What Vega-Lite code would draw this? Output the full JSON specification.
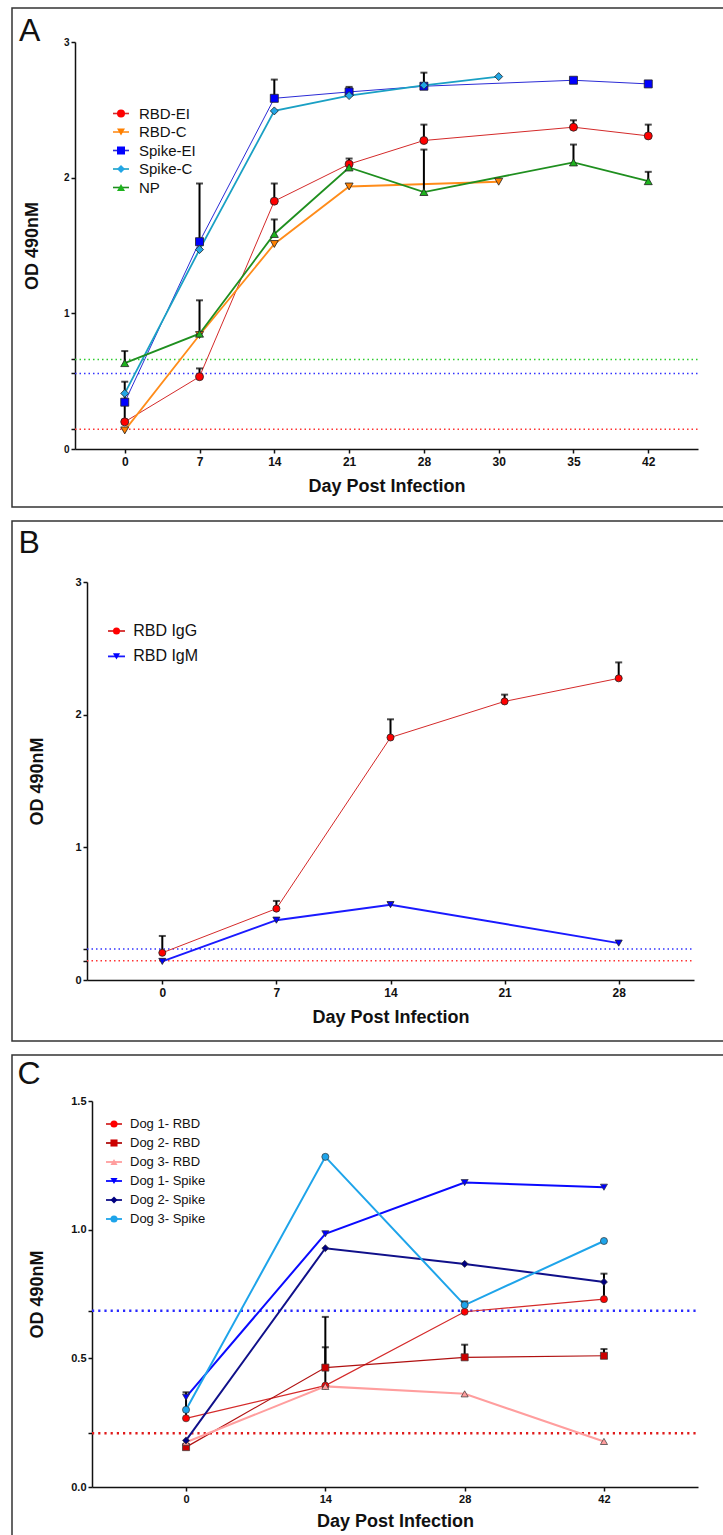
{
  "$schema": "https://vega.github.io/schema/vega-lite/v6.json",
  "background": "white",
  "padding": {"left": 11, "top": 7, "right": 0, "bottom": 0},
  "spacing": 12,
  "config": {
    "view": {"stroke": "#333", "strokeWidth": 1.5},
    "font": "Liberation Sans",
    "axis": {"grid": false, "domainColor": "#111", "tickColor": "#111", "labelColor": "#111", "titleColor": "#111", "labelFont": "Liberation Sans", "titleFont": "Liberation Sans", "labelFontWeight": "bold", "titleFontWeight": "bold", "tickWidth": 1.5, "domainWidth": 1.5, "tickSize": 4},
    "legend": {"padding": 0, "labelColor": "#111", "labelFont": "Liberation Sans"},
    "title": {"fontWeight": "normal", "color": "#111", "anchor": "start", "frame": "group", "font": "Liberation Sans"}
  },
  "datasets": {
    "a": [
      {"series": "RBD-EI", "day": 0, "od": 0.2, "hi": 0.33},
      {"series": "RBD-EI", "day": 7, "od": 0.533, "hi": 0.594},
      {"series": "RBD-EI", "day": 14, "od": 1.827, "hi": 1.957},
      {"series": "RBD-EI", "day": 21, "od": 2.1, "hi": 2.141},
      {"series": "RBD-EI", "day": 28, "od": 2.274, "hi": 2.391},
      {"series": "RBD-EI", "day": 35, "od": 2.372, "hi": 2.423},
      {"series": "RBD-EI", "day": 42, "od": 2.308, "hi": 2.391},
      {"series": "RBD-C", "day": 0, "od": 0.137},
      {"series": "RBD-C", "day": 7, "od": 0.84},
      {"series": "RBD-C", "day": 14, "od": 1.511},
      {"series": "RBD-C", "day": 21, "od": 1.935},
      {"series": "RBD-C", "day": 30, "od": 1.97},
      {"series": "Spike-EI", "day": 0, "od": 0.345, "hi": 0.496},
      {"series": "Spike-EI", "day": 7, "od": 1.528, "hi": 1.957},
      {"series": "Spike-EI", "day": 14, "od": 2.585, "hi": 2.723},
      {"series": "Spike-EI", "day": 21, "od": 2.632, "hi": 2.669},
      {"series": "Spike-EI", "day": 28, "od": 2.674, "hi": 2.774},
      {"series": "Spike-EI", "day": 35, "od": 2.718},
      {"series": "Spike-EI", "day": 42, "od": 2.691},
      {"series": "Spike-C", "day": 0, "od": 0.41},
      {"series": "Spike-C", "day": 7, "od": 1.47},
      {"series": "Spike-C", "day": 14, "od": 2.492},
      {"series": "Spike-C", "day": 21, "od": 2.605},
      {"series": "Spike-C", "day": 28, "od": 2.681},
      {"series": "Spike-C", "day": 30, "od": 2.745},
      {"series": "NP", "day": 0, "od": 0.633, "hi": 0.722},
      {"series": "NP", "day": 7, "od": 0.85, "hi": 1.096},
      {"series": "NP", "day": 14, "od": 1.585, "hi": 1.692},
      {"series": "NP", "day": 21, "od": 2.075},
      {"series": "NP", "day": 28, "od": 1.894, "hi": 2.207},
      {"series": "NP", "day": 35, "od": 2.112, "hi": 2.244},
      {"series": "NP", "day": 42, "od": 1.974, "hi": 2.043}
    ],
    "aCut": [
      {"antigen": "NP", "cutoff": 0.66},
      {"antigen": "Spike", "cutoff": 0.557},
      {"antigen": "RBD", "cutoff": 0.145}
    ],
    "b": [
      {"series": "RBD IgG", "day": 0, "od": 0.205, "hi": 0.332},
      {"series": "RBD IgG", "day": 7, "od": 0.538, "hi": 0.596},
      {"series": "RBD IgG", "day": 14, "od": 1.828, "hi": 1.965},
      {"series": "RBD IgG", "day": 21, "od": 2.1, "hi": 2.151},
      {"series": "RBD IgG", "day": 28, "od": 2.274, "hi": 2.394},
      {"series": "RBD IgM", "day": 0, "od": 0.14},
      {"series": "RBD IgM", "day": 7, "od": 0.451},
      {"series": "RBD IgM", "day": 14, "od": 0.568},
      {"series": "RBD IgM", "day": 28, "od": 0.278}
    ],
    "bCut": [
      {"antigen": "IgM", "cutoff": 0.234},
      {"antigen": "IgG", "cutoff": 0.145}
    ],
    "c": [
      {"series": "Dog 1- RBD", "day": 0, "od": 0.267, "hi": 0.368},
      {"series": "Dog 1- RBD", "day": 14, "od": 0.394, "hi": 0.543},
      {"series": "Dog 1- RBD", "day": 28, "od": 0.681, "hi": 0.721},
      {"series": "Dog 1- RBD", "day": 42, "od": 0.73, "hi": 0.829},
      {"series": "Dog 2- RBD", "day": 0, "od": 0.155},
      {"series": "Dog 2- RBD", "day": 14, "od": 0.464, "hi": 0.661},
      {"series": "Dog 2- RBD", "day": 28, "od": 0.504, "hi": 0.553},
      {"series": "Dog 2- RBD", "day": 42, "od": 0.51, "hi": 0.536},
      {"series": "Dog 3- RBD", "day": 0, "od": 0.174},
      {"series": "Dog 3- RBD", "day": 14, "od": 0.391},
      {"series": "Dog 3- RBD", "day": 28, "od": 0.362},
      {"series": "Dog 3- RBD", "day": 42, "od": 0.177},
      {"series": "Dog 1- Spike", "day": 0, "od": 0.349},
      {"series": "Dog 1- Spike", "day": 14, "od": 0.984},
      {"series": "Dog 1- Spike", "day": 28, "od": 1.183},
      {"series": "Dog 1- Spike", "day": 42, "od": 1.165},
      {"series": "Dog 2- Spike", "day": 0, "od": 0.181},
      {"series": "Dog 2- Spike", "day": 14, "od": 0.928},
      {"series": "Dog 2- Spike", "day": 28, "od": 0.867},
      {"series": "Dog 2- Spike", "day": 42, "od": 0.797},
      {"series": "Dog 3- Spike", "day": 0, "od": 0.3},
      {"series": "Dog 3- Spike", "day": 14, "od": 1.283},
      {"series": "Dog 3- Spike", "day": 28, "od": 0.707},
      {"series": "Dog 3- Spike", "day": 42, "od": 0.956}
    ],
    "cCut": [
      {"antigen": "Spike", "cutoff": 0.685},
      {"antigen": "RBD", "cutoff": 0.209}
    ]
  },
  "resolve": {
    "scale": {"x": "independent", "y": "independent", "color": "independent", "stroke": "independent", "fill": "independent", "shape": "independent"},
    "axis": {"x": "independent", "y": "independent"},
    "legend": {"color": "independent", "stroke": "independent", "fill": "independent", "shape": "independent"}
  },
  "vconcat": [
    {
      "width": 713,
      "height": 499,
      "title": {"text": "A", "fontSize": 32, "offset": -65, "dx": 7, "baseline": "alphabetic"},
      "resolve": {"scale": {"x": "independent"}, "axis": {"y": "independent"}},
      "layer": [
        {
          "data": {"name": "aCut"},
          "mark": {"type": "rule", "strokeDash": [1.5, 3], "strokeWidth": 1.5},
          "encoding": {
            "x": {"datum": 0, "type": "quantitative", "scale": {"domain": [0, 1], "range": [63, 686], "nice": false, "zero": false}, "axis": null},
            "x2": {"datum": 1},
            "y": {"field": "cutoff", "type": "quantitative", "scale": {"domain": [0, 3], "range": [441, 34], "nice": false},
              "axis": {"orient": "left", "offset": -63, "values": [0.145, 0.557, 0.66], "labels": false, "domain": false, "title": null}},
            "color": {"field": "antigen", "type": "nominal", "scale": {"domain": ["NP", "Spike", "RBD"], "range": ["#2fcc2f", "#3333ff", "#ff3333"]}, "legend": null}
          }
        },
        {
          "data": {"name": "a"},
          "encoding": {
            "x": {"field": "day", "type": "ordinal", "scale": {"type": "point", "range": [63, 686], "padding": 0.665},
              "axis": {"title": "Day Post Infection", "offset": -58, "labelAngle": 0, "labelFontSize": 12, "labelPadding": 3, "titleFontSize": 18, "titlePadding": 10}},
            "y": {"field": "od", "type": "quantitative", "scale": {"domain": [0, 3], "range": [441, 34], "nice": false},
              "axis": {"orient": "left", "title": "OD 490nM", "offset": -63, "values": [0, 1, 2, 3], "format": "d", "labelFontSize": 10, "labelPadding": 2, "titleFontSize": 18, "titlePadding": 22}}
          },
          "layer": [
            {
              "transform": [{"filter": {"field": "series", "oneOf": ["RBD-EI", "Spike-EI"]}}],
              "mark": {"type": "line", "strokeWidth": 1},
              "encoding": {
                "stroke": {"field": "series", "type": "nominal",
                  "scale": {"domain": ["RBD-EI", "RBD-C", "Spike-EI", "Spike-C", "NP", "~"], "range": ["#d42a2a", "#ff8c1a", "#2b2bd6", "#1aa0c4", "#1f8f1f", "#ffffff"]},
                  "legend": {"values": ["RBD-EI", "RBD-C", "Spike-EI", "Spike-C", "NP"], "orient": "none", "legendX": 101.5, "legendY": 98, "title": null, "symbolType": "M-2,0H2", "symbolSize": 64, "symbolStrokeWidth": 1.6, "labelFontSize": 15, "labelOffset": 10.5, "rowPadding": 2.5}}
              }
            },
            {
              "transform": [{"filter": {"field": "series", "oneOf": ["RBD-C", "Spike-C", "NP"]}}],
              "mark": {"type": "line", "strokeWidth": 1.8},
              "encoding": {
                "stroke": {"field": "series", "type": "nominal",
                  "scale": {"domain": ["RBD-EI", "RBD-C", "Spike-EI", "Spike-C", "NP", "~"], "range": ["#d42a2a", "#ff8c1a", "#2b2bd6", "#1aa0c4", "#1f8f1f", "#ffffff"]},
                  "legend": {"values": ["RBD-EI", "RBD-C", "Spike-EI", "Spike-C", "NP"], "orient": "none", "legendX": 101.5, "legendY": 98, "title": null, "symbolType": "M-2,0H2", "symbolSize": 64, "symbolStrokeWidth": 1.6, "labelFontSize": 15, "labelOffset": 10.5, "rowPadding": 2.5}}
              }
            },
            {
              "transform": [{"filter": "isValid(datum.hi)"}],
              "mark": {"type": "rule", "color": "#000", "strokeWidth": 2},
              "encoding": {"y2": {"field": "hi"}}
            },
            {
              "transform": [{"filter": "isValid(datum.hi)"}],
              "mark": {"type": "tick", "orient": "horizontal", "color": "#000", "size": 7, "thickness": 2},
              "encoding": {"y": {"field": "hi", "type": "quantitative"}}
            },
            {
              "mark": {"type": "point", "filled": true, "size": 64, "stroke": "#222", "strokeWidth": 0.8, "opacity": 1},
              "encoding": {
                "fill": {"field": "series", "type": "nominal",
                  "scale": {"domain": ["RBD-EI", "RBD-C", "Spike-EI", "Spike-C", "NP"], "range": ["#ff0000", "#ff8000", "#0000ff", "#22a6e6", "#1db31d"]},
                  "legend": {"orient": "none", "legendX": 101.5, "legendY": 98, "title": null, "symbolSize": 64, "symbolStrokeColor": "#222", "symbolStrokeWidth": 0.8, "labelFontSize": 15, "labelOffset": 10.5, "labelOpacity": 0, "rowPadding": 2.5, "zindex": 1}},
                "shape": {"field": "series", "type": "nominal",
                  "scale": {"domain": ["RBD-EI", "RBD-C", "Spike-EI", "Spike-C", "NP"], "range": ["circle", "triangle-down", "square", "diamond", "triangle-up"]},
                  "legend": {"orient": "none", "legendX": 101.5, "legendY": 98, "title": null, "symbolSize": 64, "symbolStrokeColor": "#222", "symbolStrokeWidth": 0.8, "labelFontSize": 15, "labelOffset": 10.5, "labelOpacity": 0, "rowPadding": 2.5, "zindex": 1}}
              }
            }
          ]
        }
      ]
    },
    {
      "width": 712,
      "height": 520,
      "title": {"text": "B", "fontSize": 32, "offset": -64, "dx": 6.5, "baseline": "alphabetic"},
      "resolve": {"scale": {"x": "independent"}, "axis": {"y": "independent"}},
      "layer": [
        {
          "data": {"name": "bCut"},
          "mark": {"type": "rule", "strokeDash": [1.5, 3], "strokeWidth": 1.5},
          "encoding": {
            "x": {"datum": 0, "type": "quantitative", "scale": {"domain": [0, 1], "range": [75, 682], "nice": false, "zero": false}, "axis": null},
            "x2": {"datum": 1},
            "y": {"field": "cutoff", "type": "quantitative", "scale": {"domain": [0, 3], "range": [459, 61], "nice": false},
              "axis": {"orient": "left", "offset": -75, "values": [0.145, 0.234], "labels": false, "domain": false, "title": null}},
            "color": {"field": "antigen", "type": "nominal", "scale": {"domain": ["IgM", "IgG"], "range": ["#3333ff", "#ff3333"]}, "legend": null}
          }
        },
        {
          "data": {"name": "b"},
          "encoding": {
            "x": {"field": "day", "type": "ordinal", "scale": {"type": "point", "range": [75, 682], "padding": 0.66},
              "axis": {"title": "Day Post Infection", "offset": -61, "labelAngle": 0, "labelFontSize": 12, "labelPadding": 3, "titleFontSize": 18, "titlePadding": 10}},
            "y": {"field": "od", "type": "quantitative", "scale": {"domain": [0, 3], "range": [459, 61], "nice": false},
              "axis": {"orient": "left", "title": "OD 490nM", "offset": -75, "values": [0, 1, 2, 3], "format": "d", "labelFontSize": 11, "labelPadding": 2, "titleFontSize": 18, "titlePadding": 28}}
          },
          "layer": [
            {
              "transform": [{"filter": {"field": "series", "oneOf": ["RBD IgG"]}}],
              "mark": {"type": "line", "strokeWidth": 1},
              "encoding": {
                "stroke": {"field": "series", "type": "nominal",
                  "scale": {"domain": ["RBD IgG", "RBD IgM", "~"], "range": ["#d42a2a", "#1a1aff", "#ffffff"]},
                  "legend": {"values": ["RBD IgG", "RBD IgM"], "orient": "none", "legendX": 96.5, "legendY": 102, "title": null, "symbolType": "M-2.4,0H2.4", "symbolSize": 50, "symbolStrokeWidth": 1.8, "labelFontSize": 16, "labelOffset": 8.7, "rowPadding": 9.4}}
              }
            },
            {
              "transform": [{"filter": {"field": "series", "oneOf": ["RBD IgM"]}}],
              "mark": {"type": "line", "strokeWidth": 2},
              "encoding": {
                "stroke": {"field": "series", "type": "nominal",
                  "scale": {"domain": ["RBD IgG", "RBD IgM", "~"], "range": ["#d42a2a", "#1a1aff", "#ffffff"]},
                  "legend": {"values": ["RBD IgG", "RBD IgM"], "orient": "none", "legendX": 96.5, "legendY": 102, "title": null, "symbolType": "M-2.4,0H2.4", "symbolSize": 50, "symbolStrokeWidth": 1.8, "labelFontSize": 16, "labelOffset": 8.7, "rowPadding": 9.4}}
              }
            },
            {
              "transform": [{"filter": "isValid(datum.hi)"}],
              "mark": {"type": "rule", "color": "#000", "strokeWidth": 2},
              "encoding": {"y2": {"field": "hi"}}
            },
            {
              "transform": [{"filter": "isValid(datum.hi)"}],
              "mark": {"type": "tick", "orient": "horizontal", "color": "#000", "size": 7, "thickness": 2},
              "encoding": {"y": {"field": "hi", "type": "quantitative"}}
            },
            {
              "mark": {"type": "point", "filled": true, "size": 50, "stroke": "#222", "strokeWidth": 0.8, "opacity": 1},
              "encoding": {
                "fill": {"field": "series", "type": "nominal",
                  "scale": {"domain": ["RBD IgG", "RBD IgM"], "range": ["#ff0000", "#0000ff"]},
                  "legend": {"orient": "none", "legendX": 96.5, "legendY": 102, "title": null, "symbolSize": 50, "symbolStrokeColor": "#222", "symbolStrokeWidth": 0.8, "labelFontSize": 16, "labelOffset": 8.7, "labelOpacity": 0, "rowPadding": 9.4, "zindex": 1}},
                "shape": {"field": "series", "type": "nominal",
                  "scale": {"domain": ["RBD IgG", "RBD IgM"], "range": ["circle", "triangle-down"]},
                  "legend": {"orient": "none", "legendX": 96.5, "legendY": 102, "title": null, "symbolSize": 50, "symbolStrokeColor": "#222", "symbolStrokeWidth": 0.8, "labelFontSize": 16, "labelOffset": 8.7, "labelOpacity": 0, "rowPadding": 9.4, "zindex": 1}}
              }
            }
          ]
        }
      ]
    },
    {
      "width": 712,
      "height": 494,
      "title": {"text": "C", "fontSize": 32, "offset": -61, "dx": 5.5, "baseline": "alphabetic"},
      "resolve": {"scale": {"x": "independent"}, "axis": {"y": "independent"}},
      "layer": [
        {
          "data": {"name": "cCut"},
          "mark": {"type": "rule", "strokeDash": [2.2, 4], "strokeWidth": 2.4},
          "encoding": {
            "x": {"datum": 0, "type": "quantitative", "scale": {"domain": [0, 1], "range": [80, 686], "nice": false, "zero": false}, "axis": null},
            "x2": {"datum": 1},
            "y": {"field": "cutoff", "type": "quantitative", "scale": {"domain": [0, 1.5], "range": [432, 46], "nice": false},
              "axis": {"orient": "left", "offset": -80, "values": [0.209, 0.685], "labels": false, "domain": false, "title": null}},
            "color": {"field": "antigen", "type": "nominal", "scale": {"domain": ["Spike", "RBD"], "range": ["#2a2aff", "#e01a1a"]}, "legend": null}
          }
        },
        {
          "data": {"name": "c"},
          "encoding": {
            "x": {"field": "day", "type": "ordinal", "scale": {"type": "point", "range": [80, 686], "padding": 0.675},
              "axis": {"title": "Day Post Infection", "offset": -62, "labelAngle": 0, "labelFontSize": 11, "labelPadding": 2, "titleFontSize": 18, "titlePadding": 8}},
            "y": {"field": "od", "type": "quantitative", "scale": {"domain": [0, 1.5], "range": [432, 46], "nice": false},
              "axis": {"orient": "left", "title": "OD 490nM", "offset": -80, "values": [0, 0.5, 1, 1.5], "format": ".1f", "labelFontSize": 11, "labelPadding": 2, "titleFontSize": 18, "titlePadding": 24}}
          },
          "layer": [
            {
              "transform": [{"filter": {"field": "series", "oneOf": ["Dog 1- RBD", "Dog 2- RBD"]}}],
              "mark": {"type": "line", "strokeWidth": 1.2},
              "encoding": {
                "stroke": {"field": "series", "type": "nominal",
                  "scale": {"domain": ["Dog 1- RBD", "Dog 2- RBD", "Dog 3- RBD", "Dog 1- Spike", "Dog 2- Spike", "Dog 3- Spike", "~"], "range": ["#d42a2a", "#b01010", "#ff9e9e", "#0a0aff", "#10108a", "#1ea4ea", "#ffffff"]},
                  "legend": {"values": ["Dog 1- RBD", "Dog 2- RBD", "Dog 3- RBD", "Dog 1- Spike", "Dog 2- Spike", "Dog 3- Spike"], "orient": "none", "legendX": 95.5, "legendY": 62.5, "title": null, "symbolType": "M-2.26,0H2.26", "symbolSize": 50, "symbolStrokeWidth": 1.8, "labelFontSize": 13, "labelOffset": 9.5, "rowPadding": 5}}
              }
            },
            {
              "transform": [{"filter": {"field": "series", "oneOf": ["Dog 3- RBD", "Dog 1- Spike", "Dog 2- Spike", "Dog 3- Spike"]}}],
              "mark": {"type": "line", "strokeWidth": 2},
              "encoding": {
                "stroke": {"field": "series", "type": "nominal",
                  "scale": {"domain": ["Dog 1- RBD", "Dog 2- RBD", "Dog 3- RBD", "Dog 1- Spike", "Dog 2- Spike", "Dog 3- Spike", "~"], "range": ["#d42a2a", "#b01010", "#ff9e9e", "#0a0aff", "#10108a", "#1ea4ea", "#ffffff"]},
                  "legend": {"values": ["Dog 1- RBD", "Dog 2- RBD", "Dog 3- RBD", "Dog 1- Spike", "Dog 2- Spike", "Dog 3- Spike"], "orient": "none", "legendX": 95.5, "legendY": 62.5, "title": null, "symbolType": "M-2.26,0H2.26", "symbolSize": 50, "symbolStrokeWidth": 1.8, "labelFontSize": 13, "labelOffset": 9.5, "rowPadding": 5}}
              }
            },
            {
              "transform": [{"filter": "isValid(datum.hi)"}],
              "mark": {"type": "rule", "color": "#000", "strokeWidth": 2},
              "encoding": {"y2": {"field": "hi"}}
            },
            {
              "transform": [{"filter": "isValid(datum.hi)"}],
              "mark": {"type": "tick", "orient": "horizontal", "color": "#000", "size": 7, "thickness": 2},
              "encoding": {"y": {"field": "hi", "type": "quantitative"}}
            },
            {
              "mark": {"type": "point", "filled": true, "size": 50, "stroke": "#333", "strokeWidth": 0.7, "opacity": 1},
              "encoding": {
                "fill": {"field": "series", "type": "nominal",
                  "scale": {"domain": ["Dog 1- RBD", "Dog 2- RBD", "Dog 3- RBD", "Dog 1- Spike", "Dog 2- Spike", "Dog 3- Spike"], "range": ["#ff0000", "#cc0000", "#ff9e9e", "#0000ff", "#000080", "#1ea4ea"]},
                  "legend": {"orient": "none", "legendX": 95.5, "legendY": 62.5, "title": null, "symbolSize": 50, "symbolStrokeColor": "#333", "symbolStrokeWidth": 0.7, "labelFontSize": 13, "labelOffset": 9.5, "labelOpacity": 0, "rowPadding": 5, "zindex": 1}},
                "shape": {"field": "series", "type": "nominal",
                  "scale": {"domain": ["Dog 1- RBD", "Dog 2- RBD", "Dog 3- RBD", "Dog 1- Spike", "Dog 2- Spike", "Dog 3- Spike"], "range": ["circle", "square", "triangle-up", "triangle-down", "diamond", "circle"]},
                  "legend": {"orient": "none", "legendX": 95.5, "legendY": 62.5, "title": null, "symbolSize": 50, "symbolStrokeColor": "#333", "symbolStrokeWidth": 0.7, "labelFontSize": 13, "labelOffset": 9.5, "labelOpacity": 0, "rowPadding": 5, "zindex": 1}}
              }
            }
          ]
        }
      ]
    }
  ]
}
